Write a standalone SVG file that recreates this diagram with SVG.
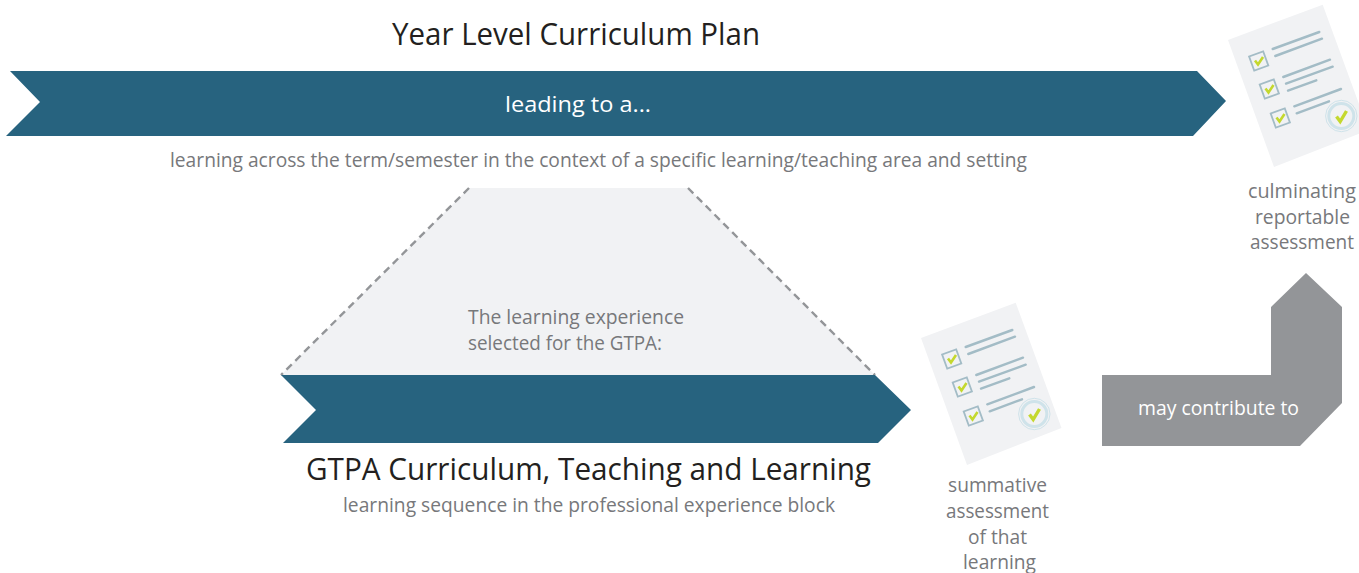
<svg xmlns="http://www.w3.org/2000/svg" xmlns:xlink="http://www.w3.org/1999/xlink" width="1359" height="573" viewBox="0 0 1359 573">
<style>
text{font-family:"Open Sans","Noto Sans","Liberation Sans",sans-serif}
.t{font-size:31px;fill:#231f20}
.g{font-size:20px;fill:#77787b}
.w{fill:#fff}
.band{fill:#27637f}
.ln{stroke:#a3bcc6;stroke-width:2.4;stroke-linecap:round;fill:none}
.box{stroke:#a3bcc6;stroke-width:1.8;fill:#f1f2f4}
.tick{stroke:#c4d82e;stroke-width:2.6;fill:none}
</style>
<defs>
<g id="doc">
<polygon points="921,338 1015.7,302.7 1061.5,428 967,465" fill="#f1f2f4"/>
<path class="ln" d="M965.7 347L1012.3 330M968.3 354L1015 336.7M976.3 375L1023 357.7M979 381.7L1025.7 364.7M981 388.7L1009.3 378.3M987.3 404.3L1034 387M989.7 411.3L1022 399.3"/>
<rect class="box" x="944.2" y="351.5" width="15" height="15" transform="rotate(-20 951.7 359)"/>
<rect class="box" x="954.8" y="379.5" width="15" height="15" transform="rotate(-20 962.3 387)"/>
<rect class="box" x="965.8" y="408.5" width="15" height="15" transform="rotate(-20 973.3 416)"/>
<path class="tick" d="M948 358.5L951 362.5L956 355"/>
<path class="tick" d="M958.5 386.5L961.5 390.5L966.5 383"/>
<path class="tick" d="M969.5 415.5L972.5 419.5L977.5 412"/>
<circle cx="1034.3" cy="414" r="15.7" fill="none" stroke="#cfe3ea" stroke-width="1"/>
<circle cx="1034.3" cy="414" r="12.5" fill="#f1f2f4" stroke="#cfe3ea" stroke-width="3"/>
<path d="M1029.5 414.5L1033.2 419.5L1039.5 409" fill="none" stroke="#c4d82e" stroke-width="3.4"/>
</g>
</defs>
<g id="title-year"><text class="t" x="392" y="44.5" textLength="368" lengthAdjust="spacingAndGlyphs">Year Level Curriculum Plan</text></g>
<g id="year-arrow">
<polygon class="band" points="10,71 1197,71 1226,101 1193,136 6,136 40,102"/>
<text x="505" y="112" font-size="22.5" class="w" textLength="146" lengthAdjust="spacingAndGlyphs">leading to a...</text>
</g>
<g id="year-caption"><text class="g" x="170" y="167" textLength="857" lengthAdjust="spacingAndGlyphs">learning across the term/semester in the context of a specific learning/teaching area and setting</text></g>
<g id="learning-experience">
<polygon points="469,188 688,188 875,375 281,375" fill="#f1f2f4"/>
<path d="M469 188L281 375M688 188L875 375" fill="none" stroke="#939598" stroke-width="2.4" stroke-dasharray="7.5 5"/>
<text class="g" x="468" y="324" textLength="216" lengthAdjust="spacingAndGlyphs">The learning experience</text>
<text class="g" x="468" y="350" textLength="194" lengthAdjust="spacingAndGlyphs">selected for the GTPA:</text>
</g>
<g id="gtpa-arrow"><polygon class="band" points="281,375 875,375 911,410 878,443 283,443 316,410"/></g>
<g id="gtpa-title"><text class="t" x="306" y="479.5" textLength="565" lengthAdjust="spacingAndGlyphs">GTPA Curriculum, Teaching and Learning</text></g>
<g id="gtpa-caption"><text class="g" x="343" y="512" textLength="492" lengthAdjust="spacingAndGlyphs">learning sequence in the professional experience block</text></g>
<g id="summative-assessment">
<use href="#doc" xlink:href="#doc"/>
<text class="g" x="948" y="492" textLength="99" lengthAdjust="spacingAndGlyphs">summative</text>
<text class="g" x="946" y="518" textLength="103" lengthAdjust="spacingAndGlyphs">assessment</text>
<text class="g" x="968" y="544" textLength="59" lengthAdjust="spacingAndGlyphs">of that</text>
<text class="g" x="963" y="569" textLength="73" lengthAdjust="spacingAndGlyphs">learning</text>
</g>
<g id="culminating-assessment">
<use href="#doc" xlink:href="#doc" transform="translate(307 -298)"/>
<text class="g" x="1248" y="198" textLength="108" lengthAdjust="spacingAndGlyphs">culminating</text>
<text class="g" x="1255" y="224" textLength="95" lengthAdjust="spacingAndGlyphs">reportable</text>
<text class="g" x="1250" y="249" textLength="104" lengthAdjust="spacingAndGlyphs">assessment</text>
</g>
<g id="connectors">
<polygon points="1102,375 1271,375 1271,307 1306,273 1342,307 1342,403 1300,446 1102,446" fill="#939598"/>
<text x="1138" y="415" font-size="19.5" class="w" textLength="161" lengthAdjust="spacingAndGlyphs">may contribute to</text>
</g>
</svg>
